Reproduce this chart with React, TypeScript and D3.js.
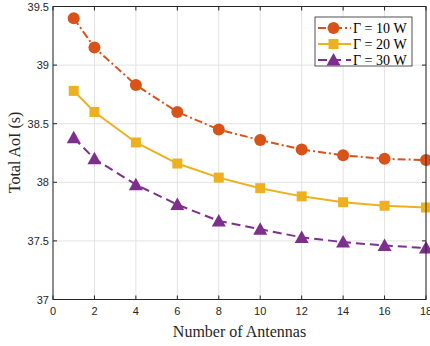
import React from 'react';
import * as d3 from 'd3';

const antennas = [1, 2, 4, 6, 8, 10, 12, 14, 16, 18];
const aoi10 = [39.4, 39.15, 38.83, 38.6, 38.45, 38.36, 38.28, 38.23, 38.2, 38.19];
const aoi20 = [38.78, 38.6, 38.34, 38.16, 38.04, 37.95, 37.88, 37.83, 37.8, 37.785];
const aoi30 = [38.38, 38.2, 37.98, 37.81, 37.67, 37.6, 37.53, 37.49, 37.46, 37.44];
const xTicks = [0, 2, 4, 6, 8, 10, 12, 14, 16, 18];
const yTicks = [37, 37.5, 38, 38.5, 39, 39.5];

const series = [
  { name: 'Γ = 10 W', values: aoi10, color: '#D95319', dash: '8,3,2,3', marker: 'circle' },
  { name: 'Γ = 20 W', values: aoi20, color: '#EDB120', dash: '', marker: 'square' },
  { name: 'Γ = 30 W', values: aoi30, color: '#7E2F8E', dash: '9,5', marker: 'triangle' },
];

const margin = { left: 53, right: 426, top: 6.5, bottom: 299.5 };

const Marker = ({ type, x, y, color }: { type: string; x: number; y: number; color: string }) => {
  if (type === 'circle') return <circle cx={x} cy={y} r={6} fill={color} />;
  if (type === 'square') return <rect x={x - 5} y={y - 5} width={10} height={10} fill={color} />;
  return <path d={`M${x},${y - 7}L${x + 7},${y + 5.5}L${x - 7},${y + 5.5}Z`} fill={color} />;
};

export default function App() {
  const x = d3.scaleLinear().domain([0, 18]).range([margin.left, margin.right]);
  const y = d3.scaleLinear().domain([37, 39.5]).range([margin.bottom, margin.top]);
  const line = d3
    .line<number>()
    .x((_, i) => x(antennas[i]))
    .y((d) => y(d));

  const tickFont = '"Liberation Sans", Arial, sans-serif';
  const serif = '"Liberation Serif", "Times New Roman", serif';

  return (
    <svg width={430} height={346} style={{ position: 'absolute', left: 0, top: 0, background: '#fff' }}>
      {/* grid */}
      {xTicks.map((t) => (
        <line key={'gx' + t} x1={x(t)} x2={x(t)} y1={margin.top} y2={margin.bottom} stroke="#e3e3e3" strokeWidth={1} />
      ))}
      {yTicks.map((t) => (
        <line key={'gy' + t} x1={margin.left} x2={margin.right} y1={y(t)} y2={y(t)} stroke="#e3e3e3" strokeWidth={1} />
      ))}

      {/* series */}
      {series.map((s) => (
        <g key={s.name}>
          <path d={line(s.values) || ''} fill="none" stroke={s.color} strokeWidth={2} strokeDasharray={s.dash} />
          {s.values.map((v, i) => (
            <Marker key={i} type={s.marker} x={x(antennas[i])} y={y(v)} color={s.color} />
          ))}
        </g>
      ))}

      {/* box + ticks */}
      <rect
        x={margin.left}
        y={margin.top}
        width={margin.right - margin.left}
        height={margin.bottom - margin.top}
        fill="none"
        stroke="#262626"
        strokeWidth={1}
      />
      {xTicks.map((t) => (
        <g key={'tx' + t}>
          <line x1={x(t)} x2={x(t)} y1={margin.bottom} y2={margin.bottom - 4} stroke="#262626" />
          <line x1={x(t)} x2={x(t)} y1={margin.top} y2={margin.top + 4} stroke="#262626" />
          <text x={x(t)} y={margin.bottom + 15.5} textAnchor="middle" fontSize={11} fontFamily={tickFont} fill="#262626">
            {t}
          </text>
        </g>
      ))}
      {yTicks.map((t) => (
        <g key={'ty' + t}>
          <line x1={margin.left} x2={margin.left + 4} y1={y(t)} y2={y(t)} stroke="#262626" />
          <line x1={margin.right} x2={margin.right - 4} y1={y(t)} y2={y(t)} stroke="#262626" />
          <text x={margin.left - 4} y={y(t) + 4} textAnchor="end" fontSize={11} fontFamily={tickFont} fill="#262626">
            {t}
          </text>
        </g>
      ))}

      {/* axis labels */}
      <text x={239.5} y={337} textAnchor="middle" fontSize={16} fontFamily={serif} fill="#262626">
        Number of Antennas
      </text>
      <text
        transform={`translate(20,152.5) rotate(-90)`}
        textAnchor="middle"
        fontSize={16}
        fontFamily={serif}
        fill="#262626"
      >
        Total AoI (s)
      </text>

      {/* legend */}
      <g>
        <rect x={315} y={17} width={97} height={49} fill="#fff" stroke="#262626" strokeWidth={0.8} />
        {series.map((s, i) => {
          const ly = 28 + i * 16;
          return (
            <g key={'lg' + s.name}>
              <line x1={318} x2={351} y1={ly} y2={ly} stroke={s.color} strokeWidth={2} strokeDasharray={s.dash} />
              <Marker type={s.marker} x={333.5} y={ly} color={s.color} />
              <text x={353} y={ly + 5} fontSize={14} fontFamily={serif} fill="#000">
                {s.name}
              </text>
            </g>
          );
        })}
      </g>
    </svg>
  );
}
